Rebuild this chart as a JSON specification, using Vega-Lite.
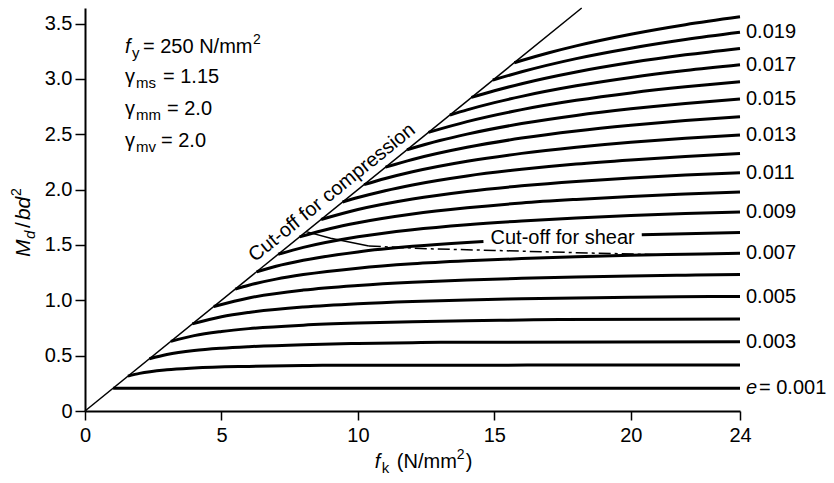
{
  "$schema": "https://vega.github.io/schema/vega-lite/v6.json",
  "width": 655,
  "height": 403,
  "autosize": "none",
  "padding": {"left": 85, "top": 8, "right": 94, "bottom": 72},
  "background": "white",
  "config": {"view": {"stroke": null}, "font": "Liberation Sans", "text": {"font": "Liberation Sans", "color": "black"},
    "axis": {"grid": false, "domainColor": "black", "domainWidth": 2, "tickColor": "black", "tickWidth": 1.5, "labelFontSize": 20, "labelColor": "black", "labelFont": "Liberation Sans", "labelFlush": false, "labelOverlap": false}},
  "datasets": {
    "curves": [
      {"e": 0.001, "fk": 1.03, "Md": 0.206}, {"e": 0.001, "fk": 24, "Md": 0.206},
      {"e": 0.002, "fk": 1.573, "Md": 0.315}, {"e": 0.002, "fk": 2, "Md": 0.34}, {"e": 0.002, "fk": 3, "Md": 0.372}, {"e": 0.002, "fk": 4, "Md": 0.388}, {"e": 0.002, "fk": 6, "Md": 0.403}, {"e": 0.002, "fk": 8, "Md": 0.411}, {"e": 0.002, "fk": 8.7, "Md": 0.413}, {"e": 0.002, "fk": 24, "Md": 0.415},
      {"e": 0.003, "fk": 2.36, "Md": 0.472}, {"e": 0.003, "fk": 3, "Md": 0.51}, {"e": 0.003, "fk": 4, "Md": 0.546}, {"e": 0.003, "fk": 5, "Md": 0.567}, {"e": 0.003, "fk": 6, "Md": 0.581}, {"e": 0.003, "fk": 8, "Md": 0.599}, {"e": 0.003, "fk": 10, "Md": 0.61}, {"e": 0.003, "fk": 12, "Md": 0.617}, {"e": 0.003, "fk": 13.04, "Md": 0.62}, {"e": 0.003, "fk": 24, "Md": 0.625},
      {"e": 0.004, "fk": 3.146, "Md": 0.629}, {"e": 0.004, "fk": 4, "Md": 0.681}, {"e": 0.004, "fk": 5, "Md": 0.718}, {"e": 0.004, "fk": 6, "Md": 0.744}, {"e": 0.004, "fk": 8, "Md": 0.775}, {"e": 0.004, "fk": 10, "Md": 0.794}, {"e": 0.004, "fk": 12, "Md": 0.807}, {"e": 0.004, "fk": 14, "Md": 0.816}, {"e": 0.004, "fk": 16, "Md": 0.822}, {"e": 0.004, "fk": 17.39, "Md": 0.826}, {"e": 0.004, "fk": 24, "Md": 0.83},
      {"e": 0.005, "fk": 3.933, "Md": 0.787}, {"e": 0.005, "fk": 5, "Md": 0.851}, {"e": 0.005, "fk": 6, "Md": 0.89}, {"e": 0.005, "fk": 8, "Md": 0.939}, {"e": 0.005, "fk": 10, "Md": 0.969}, {"e": 0.005, "fk": 12, "Md": 0.989}, {"e": 0.005, "fk": 14, "Md": 1.003}, {"e": 0.005, "fk": 16, "Md": 1.013}, {"e": 0.005, "fk": 18, "Md": 1.021}, {"e": 0.005, "fk": 20, "Md": 1.028}, {"e": 0.005, "fk": 21.74, "Md": 1.033}, {"e": 0.005, "fk": 24, "Md": 1.034},
      {"e": 0.006, "fk": 4.719, "Md": 0.944}, {"e": 0.006, "fk": 6, "Md": 1.021}, {"e": 0.006, "fk": 8, "Md": 1.092}, {"e": 0.006, "fk": 10, "Md": 1.134}, {"e": 0.006, "fk": 12, "Md": 1.163}, {"e": 0.006, "fk": 14, "Md": 1.183}, {"e": 0.006, "fk": 16, "Md": 1.198}, {"e": 0.006, "fk": 18, "Md": 1.21}, {"e": 0.006, "fk": 20, "Md": 1.219}, {"e": 0.006, "fk": 22, "Md": 1.227}, {"e": 0.006, "fk": 24, "Md": 1.233},
      {"e": 0.007, "fk": 5.506, "Md": 1.101}, {"e": 0.007, "fk": 6, "Md": 1.136}, {"e": 0.007, "fk": 7, "Md": 1.191}, {"e": 0.007, "fk": 8, "Md": 1.232}, {"e": 0.007, "fk": 10, "Md": 1.29}, {"e": 0.007, "fk": 12, "Md": 1.329}, {"e": 0.007, "fk": 14, "Md": 1.356}, {"e": 0.007, "fk": 16, "Md": 1.377}, {"e": 0.007, "fk": 18, "Md": 1.393}, {"e": 0.007, "fk": 20, "Md": 1.406}, {"e": 0.007, "fk": 22, "Md": 1.416}, {"e": 0.007, "fk": 24, "Md": 1.425},
      {"e": 0.008, "fk": 6.292, "Md": 1.258}, {"e": 0.008, "fk": 7, "Md": 1.307}, {"e": 0.008, "fk": 8, "Md": 1.361}, {"e": 0.008, "fk": 10, "Md": 1.437}, {"e": 0.008, "fk": 12, "Md": 1.487}, {"e": 0.008, "fk": 14, "Md": 1.523}, {"e": 0.008, "fk": 14.6, "Md": 1.532}, {"e": 0.008, "fk": 17.5, "Md": null}, {"e": 0.008, "fk": 20.4, "Md": 1.591}, {"e": 0.008, "fk": 22, "Md": 1.602}, {"e": 0.008, "fk": 24, "Md": 1.613},
      {"e": 0.009, "fk": 7.079, "Md": 1.416}, {"e": 0.009, "fk": 8, "Md": 1.478}, {"e": 0.009, "fk": 10, "Md": 1.574}, {"e": 0.009, "fk": 12, "Md": 1.638}, {"e": 0.009, "fk": 14, "Md": 1.683}, {"e": 0.009, "fk": 16, "Md": 1.717}, {"e": 0.009, "fk": 18, "Md": 1.744}, {"e": 0.009, "fk": 20, "Md": 1.765}, {"e": 0.009, "fk": 22, "Md": 1.783}, {"e": 0.009, "fk": 24, "Md": 1.797},
      {"e": 0.010, "fk": 7.865, "Md": 1.573}, {"e": 0.010, "fk": 9, "Md": 1.649}, {"e": 0.010, "fk": 10, "Md": 1.701}, {"e": 0.010, "fk": 12, "Md": 1.78}, {"e": 0.010, "fk": 14, "Md": 1.836}, {"e": 0.010, "fk": 16, "Md": 1.879}, {"e": 0.010, "fk": 18, "Md": 1.911}, {"e": 0.010, "fk": 20, "Md": 1.938}, {"e": 0.010, "fk": 22, "Md": 1.959}, {"e": 0.010, "fk": 24, "Md": 1.977},
      {"e": 0.011, "fk": 8.652, "Md": 1.73}, {"e": 0.011, "fk": 10, "Md": 1.82}, {"e": 0.011, "fk": 12, "Md": 1.915}, {"e": 0.011, "fk": 14, "Md": 1.983}, {"e": 0.011, "fk": 16, "Md": 2.034}, {"e": 0.011, "fk": 18, "Md": 2.074}, {"e": 0.011, "fk": 20, "Md": 2.105}, {"e": 0.011, "fk": 22, "Md": 2.131}, {"e": 0.011, "fk": 24, "Md": 2.153},
      {"e": 0.012, "fk": 9.438, "Md": 1.888}, {"e": 0.012, "fk": 10, "Md": 1.928}, {"e": 0.012, "fk": 11, "Md": 1.99}, {"e": 0.012, "fk": 12, "Md": 2.042}, {"e": 0.012, "fk": 14, "Md": 2.123}, {"e": 0.012, "fk": 16, "Md": 2.183}, {"e": 0.012, "fk": 18, "Md": 2.231}, {"e": 0.012, "fk": 20, "Md": 2.268}, {"e": 0.012, "fk": 22, "Md": 2.299}, {"e": 0.012, "fk": 24, "Md": 2.325},
      {"e": 0.013, "fk": 10.225, "Md": 2.045}, {"e": 0.013, "fk": 11, "Md": 2.1}, {"e": 0.013, "fk": 12, "Md": 2.161}, {"e": 0.013, "fk": 14, "Md": 2.256}, {"e": 0.013, "fk": 16, "Md": 2.327}, {"e": 0.013, "fk": 18, "Md": 2.382}, {"e": 0.013, "fk": 20, "Md": 2.427}, {"e": 0.013, "fk": 22, "Md": 2.463}, {"e": 0.013, "fk": 24, "Md": 2.493},
      {"e": 0.014, "fk": 11.011, "Md": 2.202}, {"e": 0.014, "fk": 12, "Md": 2.272}, {"e": 0.014, "fk": 14, "Md": 2.382}, {"e": 0.014, "fk": 16, "Md": 2.465}, {"e": 0.014, "fk": 18, "Md": 2.529}, {"e": 0.014, "fk": 20, "Md": 2.58}, {"e": 0.014, "fk": 22, "Md": 2.623}, {"e": 0.014, "fk": 24, "Md": 2.658},
      {"e": 0.015, "fk": 11.798, "Md": 2.36}, {"e": 0.015, "fk": 13, "Md": 2.443}, {"e": 0.015, "fk": 14, "Md": 2.501}, {"e": 0.015, "fk": 16, "Md": 2.596}, {"e": 0.015, "fk": 18, "Md": 2.67}, {"e": 0.015, "fk": 20, "Md": 2.729}, {"e": 0.015, "fk": 22, "Md": 2.778}, {"e": 0.015, "fk": 24, "Md": 2.818},
      {"e": 0.016, "fk": 12.584, "Md": 2.517}, {"e": 0.016, "fk": 14, "Md": 2.614}, {"e": 0.016, "fk": 16, "Md": 2.722}, {"e": 0.016, "fk": 18, "Md": 2.806}, {"e": 0.016, "fk": 20, "Md": 2.873}, {"e": 0.016, "fk": 22, "Md": 2.928}, {"e": 0.016, "fk": 24, "Md": 2.974},
      {"e": 0.017, "fk": 13.371, "Md": 2.674}, {"e": 0.017, "fk": 14, "Md": 2.72}, {"e": 0.017, "fk": 15, "Md": 2.785}, {"e": 0.017, "fk": 16, "Md": 2.842}, {"e": 0.017, "fk": 18, "Md": 2.937}, {"e": 0.017, "fk": 20, "Md": 3.013}, {"e": 0.017, "fk": 22, "Md": 3.075}, {"e": 0.017, "fk": 24, "Md": 3.127},
      {"e": 0.018, "fk": 14.157, "Md": 2.832}, {"e": 0.018, "fk": 15, "Md": 2.892}, {"e": 0.018, "fk": 16, "Md": 2.956}, {"e": 0.018, "fk": 18, "Md": 3.062}, {"e": 0.018, "fk": 20, "Md": 3.147}, {"e": 0.018, "fk": 22, "Md": 3.217}, {"e": 0.018, "fk": 24, "Md": 3.275},
      {"e": 0.019, "fk": 14.944, "Md": 2.989}, {"e": 0.019, "fk": 16, "Md": 3.064}, {"e": 0.019, "fk": 18, "Md": 3.183}, {"e": 0.019, "fk": 20, "Md": 3.277}, {"e": 0.019, "fk": 22, "Md": 3.355}, {"e": 0.019, "fk": 24, "Md": 3.42},
      {"e": 0.020, "fk": 15.73, "Md": 3.146}, {"e": 0.020, "fk": 16, "Md": 3.166}, {"e": 0.020, "fk": 17, "Md": 3.236}, {"e": 0.020, "fk": 18, "Md": 3.298}, {"e": 0.020, "fk": 20, "Md": 3.403}, {"e": 0.020, "fk": 22, "Md": 3.489}, {"e": 0.020, "fk": 24, "Md": 3.56}
    ],
    "cutoff": [{"fk": 0, "Md": 0}, {"fk": 18.2, "Md": 3.64}],
    "shear": [
      {"fk": 8.1, "Md": 1.62}, {"fk": 9.0, "Md": 1.56}, {"fk": 10.4, "Md": 1.49}, {"fk": 12.6, "Md": 1.465}, {"fk": 15, "Md": 1.45}, {"fk": 18, "Md": 1.43}, {"fk": 21, "Md": 1.412}
    ],
    "labels": [
      {"e": 0.003, "label": "0.003"}, {"e": 0.005, "label": "0.005"}, {"e": 0.007, "label": "0.007"}, {"e": 0.009, "label": "0.009"}, {"e": 0.011, "label": "0.011"}, {"e": 0.013, "label": "0.013"}, {"e": 0.015, "label": "0.015"}, {"e": 0.017, "label": "0.017"}, {"e": 0.019, "label": "0.019"}
    ]
  },
  "layer": [
    {
      "data": {"name": "curves"},
      "mark": {"type": "line", "color": "black", "strokeWidth": 3, "interpolate": "monotone", "invalid": "break-paths-filter-domains"},
      "encoding": {
        "x": {"field": "fk", "type": "quantitative", "title": null, "scale": {"domain": [0, 24], "nice": false, "zero": false},
          "axis": {"values": [0, 5, 10, 15, 20, 24], "title": null, "tickSize": 9, "labelPadding": 5}},
        "y": {"field": "Md", "type": "quantitative", "title": null, "scale": {"domain": [0, 3.64], "nice": false},
          "axis": {"values": [0, 0.5, 1, 1.5, 2, 2.5, 3, 3.5], "labelExpr": "datum.value == 0 ? '0' : format(datum.value, '.1f')", "title": null, "tickSize": 10, "labelPadding": 3}},
        "detail": {"field": "e", "type": "nominal"}
      }
    },
    {
      "data": {"name": "cutoff"},
      "mark": {"type": "line", "color": "black", "strokeWidth": 1.5},
      "encoding": {
        "x": {"field": "fk", "type": "quantitative", "title": null},
        "y": {"field": "Md", "type": "quantitative", "title": null}
      }
    },
    {
      "data": {"name": "shear"},
      "transform": [{"filter": "datum.fk <= 10.4"}],
      "mark": {"type": "line", "color": "black", "strokeWidth": 1.5},
      "encoding": {
        "x": {"field": "fk", "type": "quantitative", "title": null},
        "y": {"field": "Md", "type": "quantitative", "title": null}
      }
    },
    {
      "data": {"name": "shear"},
      "transform": [{"filter": "datum.fk >= 10.4"}],
      "mark": {"type": "line", "color": "black", "strokeWidth": 1.5, "strokeDash": [12, 4, 3, 4]},
      "encoding": {
        "x": {"field": "fk", "type": "quantitative", "title": null},
        "y": {"field": "Md", "type": "quantitative", "title": null}
      }
    },
    {
      "data": {"name": "curves"},
      "transform": [
        {"filter": "datum.fk == 24"},
        {"lookup": "e", "from": {"data": {"name": "labels"}, "key": "e", "fields": ["label"]}},
        {"filter": "isValid(datum.label)"}
      ],
      "mark": {"type": "text", "align": "left", "baseline": "middle", "dx": 6, "fontSize": 20, "color": "black"},
      "encoding": {
        "x": {"field": "fk", "type": "quantitative", "title": null},
        "y": {"field": "Md", "type": "quantitative", "title": null},
        "text": {"field": "label"}
      }
    },
    {
      "data": {"name": "curves"},
      "transform": [{"filter": "datum.e == 0.001 && datum.fk == 24"}],
      "mark": {"type": "text", "text": "e", "fontStyle": "italic", "align": "left", "baseline": "middle", "dx": 6, "fontSize": 20, "color": "black"},
      "encoding": {
        "x": {"field": "fk", "type": "quantitative", "title": null},
        "y": {"field": "Md", "type": "quantitative", "title": null}
      }
    },
    {
      "data": {"name": "curves"},
      "transform": [{"filter": "datum.e == 0.001 && datum.fk == 24"}],
      "mark": {"type": "text", "text": "= 0.001", "align": "left", "baseline": "middle", "dx": 19, "fontSize": 20, "color": "black"},
      "encoding": {
        "x": {"field": "fk", "type": "quantitative", "title": null},
        "y": {"field": "Md", "type": "quantitative", "title": null}
      }
    },
    {
      "data": {"values": [{}]},
      "mark": {"type": "text", "text": "Cut-off for compression", "angle": -39, "align": "center", "baseline": "alphabetic", "dy": -8, "fontSize": 20, "color": "black"},
      "encoding": {"x": {"datum": 9.37, "title": null}, "y": {"datum": 1.874, "title": null}}
    },
    {
      "data": {"values": [{}]},
      "mark": {"type": "text", "text": "Cut-off for shear", "align": "center", "baseline": "middle", "fontSize": 20, "color": "black"},
      "encoding": {"x": {"datum": 17.5, "title": null}, "y": {"datum": 1.566, "title": null}}
    },
    {
      "data": {"values": [{}]},
      "mark": {"type": "text", "text": "f", "fontStyle": "italic", "align": "left", "baseline": "alphabetic", "fontSize": 20, "color": "black"},
      "encoding": {"x": {"datum": 1.465, "title": null}, "y": {"datum": 3.237, "title": null}}
    },
    {
      "data": {"values": [{}]},
      "mark": {"type": "text", "text": "y", "align": "left", "baseline": "alphabetic", "dx": 7, "dy": 5, "fontSize": 15, "color": "black"},
      "encoding": {"x": {"datum": 1.465, "title": null}, "y": {"datum": 3.237, "title": null}}
    },
    {
      "data": {"values": [{}]},
      "mark": {"type": "text", "text": "= 250 N/mm", "align": "left", "baseline": "alphabetic", "dx": 18, "fontSize": 20, "color": "black"},
      "encoding": {"x": {"datum": 1.465, "title": null}, "y": {"datum": 3.237, "title": null}}
    },
    {
      "data": {"values": [{}]},
      "mark": {"type": "text", "text": "2", "align": "left", "baseline": "alphabetic", "dx": 128, "dy": -9, "fontSize": 14, "color": "black"},
      "encoding": {"x": {"datum": 1.465, "title": null}, "y": {"datum": 3.237, "title": null}}
    },
    {
      "data": {"values": [{}]},
      "mark": {"type": "text", "text": "γ", "align": "left", "baseline": "alphabetic", "fontSize": 20, "color": "black"},
      "encoding": {"x": {"datum": 1.465, "title": null}, "y": {"datum": 2.966, "title": null}}
    },
    {
      "data": {"values": [{}]},
      "mark": {"type": "text", "text": "ms", "align": "left", "baseline": "alphabetic", "dx": 11, "dy": 5, "fontSize": 15, "color": "black"},
      "encoding": {"x": {"datum": 1.465, "title": null}, "y": {"datum": 2.966, "title": null}}
    },
    {
      "data": {"values": [{}]},
      "mark": {"type": "text", "text": "= 1.15", "align": "left", "baseline": "alphabetic", "dx": 38, "fontSize": 20, "color": "black"},
      "encoding": {"x": {"datum": 1.465, "title": null}, "y": {"datum": 2.966, "title": null}}
    },
    {
      "data": {"values": [{}]},
      "mark": {"type": "text", "text": "γ", "align": "left", "baseline": "alphabetic", "fontSize": 20, "color": "black"},
      "encoding": {"x": {"datum": 1.465, "title": null}, "y": {"datum": 2.676, "title": null}}
    },
    {
      "data": {"values": [{}]},
      "mark": {"type": "text", "text": "mm", "align": "left", "baseline": "alphabetic", "dx": 11, "dy": 5, "fontSize": 15, "color": "black"},
      "encoding": {"x": {"datum": 1.465, "title": null}, "y": {"datum": 2.676, "title": null}}
    },
    {
      "data": {"values": [{}]},
      "mark": {"type": "text", "text": "= 2.0", "align": "left", "baseline": "alphabetic", "dx": 42, "fontSize": 20, "color": "black"},
      "encoding": {"x": {"datum": 1.465, "title": null}, "y": {"datum": 2.676, "title": null}}
    },
    {
      "data": {"values": [{}]},
      "mark": {"type": "text", "text": "γ", "align": "left", "baseline": "alphabetic", "fontSize": 20, "color": "black"},
      "encoding": {"x": {"datum": 1.465, "title": null}, "y": {"datum": 2.387, "title": null}}
    },
    {
      "data": {"values": [{}]},
      "mark": {"type": "text", "text": "mv", "align": "left", "baseline": "alphabetic", "dx": 11, "dy": 5, "fontSize": 15, "color": "black"},
      "encoding": {"x": {"datum": 1.465, "title": null}, "y": {"datum": 2.387, "title": null}}
    },
    {
      "data": {"values": [{}]},
      "mark": {"type": "text", "text": "= 2.0", "align": "left", "baseline": "alphabetic", "dx": 36, "fontSize": 20, "color": "black"},
      "encoding": {"x": {"datum": 1.465, "title": null}, "y": {"datum": 2.387, "title": null}}
    },
    {
      "data": {"values": [{}]},
      "mark": {"type": "text", "text": "M", "fontStyle": "italic", "angle": 270, "align": "left", "baseline": "alphabetic", "fontSize": 21, "color": "black"},
      "encoding": {"x": {"datum": -2.01, "title": null}, "y": {"datum": 1.39, "title": null}}
    },
    {
      "data": {"values": [{}]},
      "mark": {"type": "text", "text": "d", "fontStyle": "italic", "angle": 270, "align": "left", "baseline": "alphabetic", "dx": 18, "dy": 5, "fontSize": 15, "color": "black"},
      "encoding": {"x": {"datum": -2.01, "title": null}, "y": {"datum": 1.39, "title": null}}
    },
    {
      "data": {"values": [{}]},
      "mark": {"type": "text", "text": "/", "angle": 270, "align": "left", "baseline": "alphabetic", "dx": 29, "fontSize": 21, "color": "black"},
      "encoding": {"x": {"datum": -2.01, "title": null}, "y": {"datum": 1.39, "title": null}}
    },
    {
      "data": {"values": [{}]},
      "mark": {"type": "text", "text": "bd", "fontStyle": "italic", "angle": 270, "align": "left", "baseline": "alphabetic", "dx": 37, "fontSize": 21, "color": "black"},
      "encoding": {"x": {"datum": -2.01, "title": null}, "y": {"datum": 1.39, "title": null}}
    },
    {
      "data": {"values": [{}]},
      "mark": {"type": "text", "text": "2", "angle": 270, "align": "left", "baseline": "alphabetic", "dx": 61, "dy": -9, "fontSize": 14, "color": "black"},
      "encoding": {"x": {"datum": -2.01, "title": null}, "y": {"datum": 1.39, "title": null}}
    },
    {
      "data": {"values": [{}]},
      "mark": {"type": "text", "text": "f", "fontStyle": "italic", "align": "left", "baseline": "alphabetic", "fontSize": 20, "color": "black"},
      "encoding": {"x": {"datum": 10.62, "title": null}, "y": {"datum": -0.515, "title": null}}
    },
    {
      "data": {"values": [{}]},
      "mark": {"type": "text", "text": "k", "align": "left", "baseline": "alphabetic", "dx": 7, "dy": 5, "fontSize": 15, "color": "black"},
      "encoding": {"x": {"datum": 10.62, "title": null}, "y": {"datum": -0.515, "title": null}}
    },
    {
      "data": {"values": [{}]},
      "mark": {"type": "text", "text": "(N/mm", "align": "left", "baseline": "alphabetic", "dx": 22, "fontSize": 20, "color": "black"},
      "encoding": {"x": {"datum": 10.62, "title": null}, "y": {"datum": -0.515, "title": null}}
    },
    {
      "data": {"values": [{}]},
      "mark": {"type": "text", "text": "2", "align": "left", "baseline": "alphabetic", "dx": 82, "dy": -9, "fontSize": 14, "color": "black"},
      "encoding": {"x": {"datum": 10.62, "title": null}, "y": {"datum": -0.515, "title": null}}
    },
    {
      "data": {"values": [{}]},
      "mark": {"type": "text", "text": ")", "align": "left", "baseline": "alphabetic", "dx": 91, "fontSize": 20, "color": "black"},
      "encoding": {"x": {"datum": 10.62, "title": null}, "y": {"datum": -0.515, "title": null}}
    }
  ]
}
